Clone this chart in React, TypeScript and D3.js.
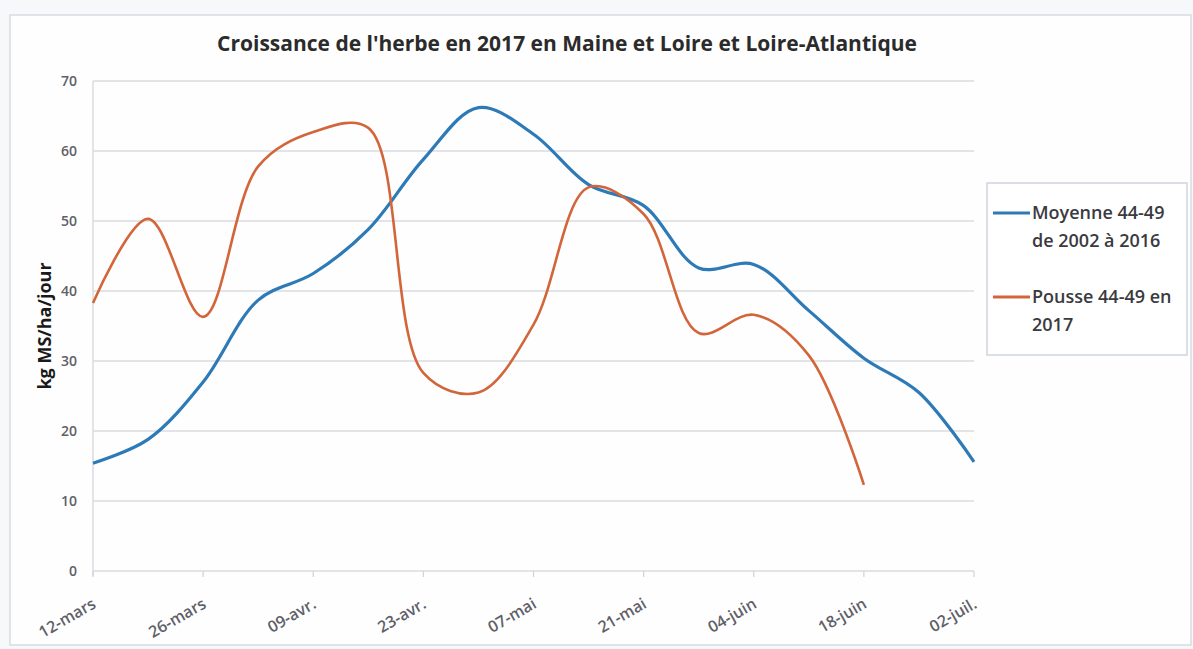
import React, { useEffect, useRef } from 'react';
import * as d3 from 'd3';

// weekly dates, 2017
const dates = [
  '2017-03-12', '2017-03-19', '2017-03-26', '2017-04-02', '2017-04-09', '2017-04-16',
  '2017-04-23', '2017-04-30', '2017-05-07', '2017-05-14', '2017-05-21', '2017-05-28',
  '2017-06-04', '2017-06-11', '2017-06-18', '2017-06-25', '2017-07-02',
];
const moyenne = [15.4, 18.8, 27, 38.7, 42.5, 48.8, 58.8, 66.2, 62.4, 55.2, 52.2, 43.3, 43.8, 37.2, 30.4, 25.5, 15.6];
const pousse = [38.3, 50.3, 36.3, 57.8, 62.7, 63.3, 28.3, 25.5, 35.2, 54.8, 51, 34, 36.6, 30.8, 12.3];

const tickDates = ['2017-03-12', '2017-03-26', '2017-04-09', '2017-04-23', '2017-05-07', '2017-05-21', '2017-06-04', '2017-06-18', '2017-07-02'];
const tickLabels = ['12-mars', '26-mars', '09-avr.', '23-avr.', '07-mai', '21-mai', '04-juin', '18-juin', '02-juil.'];
const yTicks = [0, 10, 20, 30, 40, 50, 60, 70];

const title = "Croissance de l'herbe en 2017 en Maine et Loire et Loire-Atlantique";
const yLabel = 'kg MS/ha/jour';
const legendItems = [
  { lines: ['Moyenne 44-49', 'de 2002 à 2016'], color: '#2d7ab7' },
  { lines: ['Pousse 44-49 en', '2017'], color: '#d2663a' },
];

const W = 1193, H = 649;
const FONT = "'Open Sans', 'Noto Sans', sans-serif";

export default function App() {
  const ref = useRef<SVGSVGElement>(null);

  useEffect(() => {
    const svg = d3.select(ref.current);
    svg.selectAll('*').remove();

    const parse = d3.timeParse('%Y-%m-%d');
    const x = d3.scaleTime()
      .domain([parse(dates[0])!, parse(dates[dates.length - 1])!])
      .range([93, 974]);
    const y = d3.scaleLinear().domain([0, 70]).range([571, 81]);

    // chart frame
    svg.append('rect')
      .attr('x', 10).attr('y', 15).attr('width', W - 12).attr('height', H - 19)
      .attr('fill', '#fefefe').attr('stroke', '#d6dbe4').attr('stroke-width', 1.5);

    // grid
    svg.append('g').selectAll('line').data(yTicks).enter().append('line')
      .attr('x1', 93).attr('x2', 974)
      .attr('y1', d => y(d)).attr('y2', d => y(d))
      .attr('stroke', '#d9dbe0').attr('stroke-width', 1.5);

    // y axis line
    svg.append('line')
      .attr('x1', 93).attr('x2', 93).attr('y1', y(70)).attr('y2', y(0) + 5)
      .attr('stroke', '#d9dbe0').attr('stroke-width', 1.5);

    // x ticks
    svg.append('g').selectAll('line').data(tickDates).enter().append('line')
      .attr('x1', d => x(parse(d)!)).attr('x2', d => x(parse(d)!))
      .attr('y1', y(0)).attr('y2', y(0) + 6)
      .attr('stroke', '#d0d2d8').attr('stroke-width', 1.2);

    // y tick labels
    svg.append('g').selectAll('text').data(yTicks).enter().append('text')
      .attr('x', 77).attr('y', d => y(d)).attr('dy', '0.35em')
      .attr('text-anchor', 'end')
      .attr('font-family', FONT).attr('font-size', 14).attr('font-weight', 600)
      .attr('fill', '#5f6068')
      .text(d => d);

    // x tick labels
    svg.append('g').selectAll('text').data(tickDates).enter().append('text')
      .attr('transform', d => `translate(${x(parse(d)!) + 4},${y(0) + 36}) rotate(-30)`)
      .attr('text-anchor', 'end')
      .attr('font-family', FONT).attr('font-size', 16).attr('font-weight', 600)
      .attr('fill', '#5f6068')
      .text((d, i) => tickLabels[i]);

    const line = d3.line<number>()
      .x((d, i) => x(parse(dates[i])!))
      .y(d => y(d))
      .curve(d3.curveCatmullRom.alpha(0.5));

    svg.append('path').datum(moyenne)
      .attr('d', line).attr('fill', 'none')
      .attr('stroke', legendItems[0].color).attr('stroke-width', 3.2);
    svg.append('path').datum(pousse)
      .attr('d', line).attr('fill', 'none')
      .attr('stroke', legendItems[1].color).attr('stroke-width', 2.6);

    // title
    svg.append('text')
      .attr('x', 567).attr('y', 51).attr('text-anchor', 'middle')
      .attr('font-family', FONT).attr('font-size', 21).attr('font-weight', 700)
      .attr('fill', '#2b2b2b')
      .text(title);

    // y label
    svg.append('text')
      .attr('transform', `translate(51,326) rotate(-90)`)
      .attr('text-anchor', 'middle')
      .attr('font-family', FONT).attr('font-size', 18).attr('font-weight', 700)
      .attr('fill', '#1a1a1a')
      .text(yLabel);

    // legend
    const lg = svg.append('g');
    lg.append('rect')
      .attr('x', 987).attr('y', 183).attr('width', 200).attr('height', 172)
      .attr('fill', '#ffffff').attr('stroke', '#cfd4de').attr('stroke-width', 1.5);
    legendItems.forEach((it, i) => {
      const ly = 213 + i * 84;
      lg.append('line')
        .attr('x1', 993).attr('x2', 1030).attr('y1', ly).attr('y2', ly)
        .attr('stroke', it.color).attr('stroke-width', 3);
      it.lines.forEach((t, j) => {
        lg.append('text')
          .attr('x', 1032).attr('y', ly + j * 28).attr('dy', '0.35em')
          .attr('font-family', FONT).attr('font-size', 18).attr('font-weight', 600)
          .attr('fill', '#3a3a40')
          .text(t);
      });
    });
  }, []);

  return (
    <div style={{ position: 'absolute', left: 0, top: 0 }}>
      <svg ref={ref} width={W} height={H} style={{ display: 'block', background: '#f7f8fa' }} />
    </div>
  );
}
